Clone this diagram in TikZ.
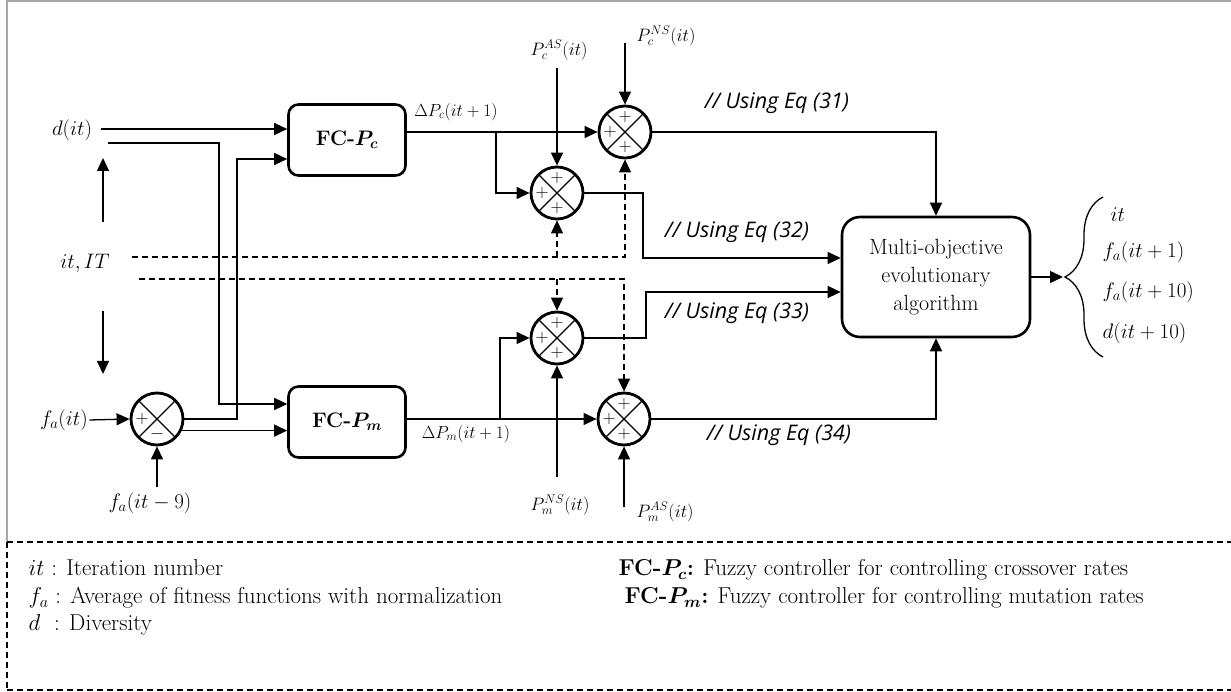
\RequirePackage{fix-cm}
\documentclass[tikz,border=0pt]{standalone}
\usepackage{bm}
\usepackage{fontspec}
\newfontfamily\eqfont{Open Sans}
\usetikzlibrary{arrows.meta,decorations.pathreplacing,calc}
\newcommand\sumsigns[4]{%
  \node[sg] at ([yshift=15pt]#1.center) {$#2$};
  \node[sg] at ([xshift=-15pt]#1.center) {$#3$};
  \node[sg] at ([yshift=-15pt]#1.center) {$#4$};}
\begin{document}
\begin{tikzpicture}[x=1pt,y=-1pt,
  line width=1.3pt,
  arr/.style={-{Triangle[length=13pt,width=12pt]}},
  dsh/.style={dash pattern=on 6pt off 4pt, line width=1.2pt},
  fcbox/.style={draw,rounded corners=10pt,line width=2.6pt,minimum width=117pt,minimum height=71pt,font=\fontsize{21}{24}\selectfont\bfseries},
  sum/.style={draw,circle,line width=2.8pt,minimum size=52pt,inner sep=0pt,
    path picture={\draw[line width=1.3pt] (path picture bounding box.north west) -- (path picture bounding box.south east) (path picture bounding box.north east) -- (path picture bounding box.south west);}},
  sg/.style={font=\fontsize{18}{18}\selectfont,inner sep=0pt},
  lab/.style={font=\fontsize{21}{24}\selectfont,inner sep=1pt},
  slab/.style={font=\fontsize{17.5}{20}\selectfont,inner sep=1pt},
  tlab/.style={font=\fontsize{18}{20}\selectfont,inner sep=1pt},
  eq/.style={font=\fontsize{21.5}{24}\selectfont\eqfont\itshape,inner sep=0pt},
  leg/.style={font=\fontsize{23}{26}\selectfont,anchor=west,inner sep=0pt},
  rlab/.style={font=\fontsize{21}{24}\selectfont,anchor=west,inner sep=0pt},
]
\useasboundingbox (0,0) rectangle (1231,692);
% frame
\draw[gray!70,line width=1.2pt] (7,542) -- (7,1) -- (1231,1);
\draw[dsh] (7,542) -- (1231,542);
\draw[dsh] (7,542) -- (7,690);
\draw[dash pattern=on 6pt off 4pt,line width=2pt] (7,690) -- (1231,690);

% nodes
\node[lab] (d) at (72,130) {$d(it)$};
\node[fcbox] (fcpc) at (347,140) {FC-$\bm{P_c}$};
\node[fcbox] (fcpm) at (347,422) {FC-$\bm{P_m}$};
\node[sum] (s1) at (625,132) {};
\node[sum] (s2) at (557,193) {};
\node[sum] (s3) at (557,338) {};
\node[sum] (s4) at (624,419) {};
\node[sum] (s5) at (157,419) {};
\sumsigns{s1}{+}{+}{+}
\sumsigns{s2}{+}{+}{+}
\sumsigns{s3}{+}{+}{+}
\sumsigns{s4}{+}{+}{+}
\sumsigns{s5}{}{+}{-}
\node[draw,rounded corners=18pt,line width=2.6pt,minimum width=188pt,minimum height=120pt,align=center,font=\fontsize{22}{28}\selectfont] (moea) at (936,277) {Multi-objective\\evolutionary\\algorithm};

\node[lab] (itIT) at (85,263) {$it, IT$};
\node[lab] (fait) at (64,420) {$f_a(it)$};
\node[lab] (fait9) at (150,503) {$f_a(it-9)$};
\node[slab] (dpc) at (456,112) {$\Delta P_c(it+1)$};
\node[slab] (dpm) at (466,434) {$\Delta P_m(it+1)$};
\node[tlab] (pcas) at (559,50) {$P_c^{AS}(it)$};
\node[tlab] (pcns) at (666,36) {$P_c^{NS}(it)$};
\node[tlab] (pmns) at (560,505) {$P_m^{NS}(it)$};
\node[tlab] (pmas) at (665,512) {$P_m^{AS}(it)$};
\node[eq] (e31) at (777,103) {// Using Eq (31)};
\node[eq] (e32) at (737,232) {// Using Eq (32)};
\node[eq] (e33) at (737,313) {// Using Eq (33)};
\node[eq] (e34) at (779,435) {// Using Eq (34)};
\node[rlab] (o1) at (1110,215) {$it$};
\node[rlab] (o2) at (1102,252) {$f_a(it+1)$};
\node[rlab] (o3) at (1102,292) {$f_a(it+10)$};
\node[rlab] (o4) at (1102,333) {$d(it+10)$};

% coordinates
\coordinate (d1) at (101,129);
\coordinate (d2) at (108,143);
\coordinate (up1) at (103,222);
\coordinate (up2) at (103,158);
\coordinate (dn1) at (103,311);
\coordinate (dn2) at (103,374);
\coordinate (da) at (132,257);
\coordinate (db) at (139,279);
\coordinate (b1) at (496,132);
\coordinate (b2) at (500,419);
\coordinate (pcasl) at (557,68);
\coordinate (pcnsl) at (625,43);
\coordinate (pmnsl) at (557,477);
\coordinate (pmasl) at (624,507);
\coordinate (fa9l) at (157,487);
\coordinate (outp) at (1063,277);

% connectors
\draw[arr] (d1) -- (d1 -| fcpc.west);
\draw[arr] (d2) -- (219,143) -- (219,404) -- ([yshift=18pt]fcpm.west);
\draw[arr] (s5.east) -- (237,419) -- (237,159) -- ([yshift=-19pt]fcpc.west);
\draw[arr] (s5.-25) -- (s5.-25 -| fcpm.west);
\draw[arr] (fait.east) -- (s5.west);
\draw[arr] (fa9l) -- (s5.south);
\draw[arr] (up1) -- (up2);
\draw[arr] (dn1) -- (dn2);

\draw[dsh,arr] (da) -- (625,257) -- (s1.south);
\draw[dsh,arr] (557,257) -- (s2.south);
\draw[dsh,arr] (db) -- (624,279) -- (s4.north);
\draw[dsh,arr] (557,279) -- (s3.north);

\draw[arr] (fcpc.east |- s1) -- (s1.west);
\draw[arr] (b1) |- (s2.west);
\draw[arr] (pcasl) -- (s2.north);
\draw[arr] (pcnsl) -- (s1.north);
\draw[arr] (s1.east) -| (moea.north);
\draw[arr] (s2.east) -- (643,193) |- ([yshift=19pt]moea.west);
\draw[arr] (s3.east) -- (646,338) |- ([yshift=-15pt]moea.west);
\draw[arr] (s4.east) -| (moea.south);
\draw[arr] (fcpm.east |- s4) -- (s4.west);
\draw[arr] (b2) |- (s3.west);
\draw[arr] (pmnsl) -- (s3.south);
\draw[arr] (pmasl) -- (s4.south);
\draw[arr] (moea.east) -- (outp);
\draw[line width=1.3pt,decorate,decoration={brace,amplitude=38pt}] (1103,357) -- (1103,197);

% legend
\node[leg] (l1) at (28,568) {$it$ : Iteration number};
\node[leg] (l2) at (28,598) {$f_a$ : Average of fitness functions with normalization};
\node[leg] (l3) at (28,625) {$d$\ \ : Diversity};
\node[leg] (l4) at (618,570) {\textbf{FC-}$\bm{P_c}$\textbf{:} Fuzzy controller for controlling crossover rates};
\node[leg] (l5) at (624,598) {\textbf{FC-}$\bm{P_m}$\textbf{:} Fuzzy controller for controlling mutation rates};
\end{tikzpicture}
\end{document}
